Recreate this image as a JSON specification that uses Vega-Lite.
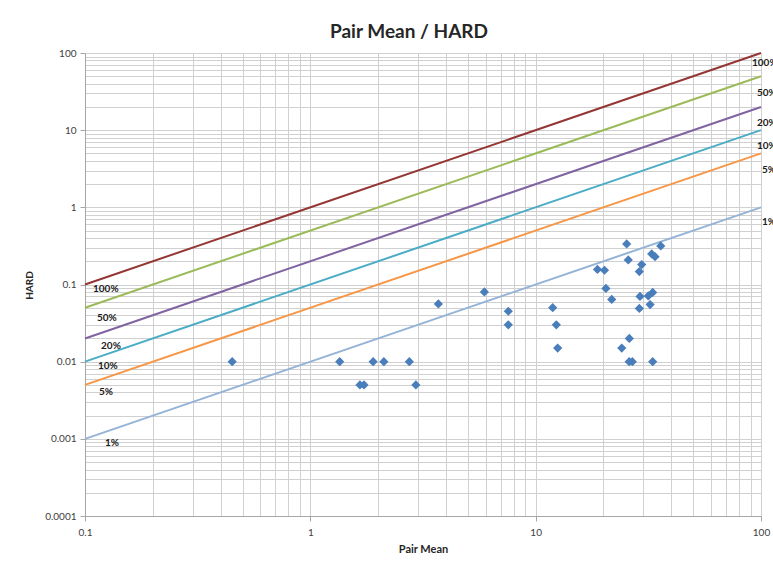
{
  "$schema": "https://vega.github.io/schema/vega-lite/v6.json",
  "width": 676,
  "height": 463,
  "autosize": {"type": "none"},
  "padding": {"left": 85, "top": 53, "right": 12, "bottom": 53},
  "background": "white",
  "config": {
    "font": "Lato",
    "view": {"stroke": null}
  },
  "title": {
    "text": "Pair Mean / HARD",
    "font": "Lato",
    "fontSize": 19,
    "fontWeight": "bold",
    "color": "#262626",
    "anchor": "middle",
    "frame": "group",
    "dx": -14,
    "baseline": "alphabetic",
    "offset": -9
  },
  "datasets": {
    "guides": [
      {"series": "100%", "x": 0.1, "y": 0.1},
      {"series": "100%", "x": 100, "y": 100},
      {"series": "50%", "x": 0.1, "y": 0.05},
      {"series": "50%", "x": 100, "y": 50},
      {"series": "20%", "x": 0.1, "y": 0.02},
      {"series": "20%", "x": 100, "y": 20},
      {"series": "10%", "x": 0.1, "y": 0.01},
      {"series": "10%", "x": 100, "y": 10},
      {"series": "5%", "x": 0.1, "y": 0.005},
      {"series": "5%", "x": 100, "y": 5},
      {"series": "1%", "x": 0.1, "y": 0.001},
      {"series": "1%", "x": 100, "y": 1}
    ],
    "points": [
      {"x": 0.45, "y": 0.01},
      {"x": 1.35, "y": 0.01},
      {"x": 1.66, "y": 0.005},
      {"x": 1.73, "y": 0.005},
      {"x": 1.9, "y": 0.01},
      {"x": 2.12, "y": 0.01},
      {"x": 2.75, "y": 0.01},
      {"x": 2.94, "y": 0.005},
      {"x": 3.7, "y": 0.056},
      {"x": 5.92, "y": 0.08},
      {"x": 7.56, "y": 0.045},
      {"x": 7.56, "y": 0.03},
      {"x": 11.9, "y": 0.05},
      {"x": 12.35, "y": 0.03},
      {"x": 12.52, "y": 0.015},
      {"x": 18.8, "y": 0.157},
      {"x": 20.2, "y": 0.153},
      {"x": 20.5, "y": 0.089},
      {"x": 21.75, "y": 0.064},
      {"x": 24.1, "y": 0.015},
      {"x": 25.35, "y": 0.335},
      {"x": 25.76, "y": 0.208},
      {"x": 26.0, "y": 0.01},
      {"x": 26.04, "y": 0.02},
      {"x": 26.85, "y": 0.01},
      {"x": 28.84, "y": 0.147},
      {"x": 29.55, "y": 0.181},
      {"x": 29.04, "y": 0.07},
      {"x": 28.84, "y": 0.049},
      {"x": 31.6, "y": 0.071},
      {"x": 32.2, "y": 0.055},
      {"x": 33.06, "y": 0.079},
      {"x": 32.73, "y": 0.249},
      {"x": 33.86, "y": 0.229},
      {"x": 33.06, "y": 0.01},
      {"x": 35.9, "y": 0.316}
    ],
    "tags": [
      {"label": "100%", "x": 0.1085, "y": 0.0875},
      {"label": "50%", "x": 0.113, "y": 0.0368},
      {"label": "20%", "x": 0.1178, "y": 0.016},
      {"label": "10%", "x": 0.1142, "y": 0.0088},
      {"label": "5%", "x": 0.1154, "y": 0.00405},
      {"label": "1%", "x": 0.1227, "y": 0.00088},
      {"label": "100%", "x": 91.2, "y": 74.2},
      {"label": "50%", "x": 96.0, "y": 30.3},
      {"label": "20%", "x": 96.0, "y": 12.4},
      {"label": "10%", "x": 96.0, "y": 6.24},
      {"label": "5%", "x": 101, "y": 3.05},
      {"label": "1%", "x": 101, "y": 0.645}
    ]
  },
  "layer": [
    {
      "data": {"name": "guides"},
      "mark": {"type": "line", "strokeWidth": 2, "clip": false},
      "encoding": {
        "x": {
          "field": "x",
          "type": "quantitative",
          "scale": {"type": "log", "domain": [0.1, 100], "nice": false},
          "axis": {
            "title": "Pair Mean",
            "titleFont": "Lato",
            "titleFontSize": 11,
            "titleFontWeight": "bold",
            "titleColor": "#262626",
            "titleX": 338,
            "titleY": 33,
            "titleBaseline": "middle",
            "titleAlign": "center",
            "values": [0.1, 0.2, 0.3, 0.4, 0.5, 0.6, 0.7, 0.8, 0.9, 1, 2, 3, 4, 5, 6, 7, 8, 9, 10, 20, 30, 40, 50, 60, 70, 80, 90, 100],
            "labelExpr": "abs(log(datum.value)/LN10 - round(log(datum.value)/LN10)) < 0.001 ? '' + datum.value : ''",
            "labelOverlap": false,
            "labelBound": false,
            "labelFlush": false,
            "labelFont": "Lato",
            "labelFontSize": 10,
            "labelColor": "#404040",
            "labelPadding": 6,
            "tickSize": 5,
            "tickColor": "#a6a6a6",
            "tickOpacity": {"condition": {"test": "abs(log(datum.value)/LN10 - round(log(datum.value)/LN10)) < 0.001", "value": 1}, "value": 0},
            "domainColor": "#a6a6a6",
            "grid": true,
            "gridColor": "#d0d0d0",
            "gridWidth": 1
          }
        },
        "y": {
          "field": "y",
          "type": "quantitative",
          "scale": {"type": "log", "domain": [0.0001, 100], "nice": false},
          "axis": {
            "title": "HARD",
            "titleFont": "Lato",
            "titleFontSize": 10,
            "titleFontWeight": "bold",
            "titleColor": "#262626",
            "titleX": -56,
            "titleY": 232,
            "titleAngle": -90,
            "titleBaseline": "middle",
            "titleAlign": "center",
            "values": [0.0001, 0.0002, 0.0003, 0.0004, 0.0005, 0.0006, 0.0007, 0.0008, 0.0009, 0.001, 0.002, 0.003, 0.004, 0.005, 0.006, 0.007, 0.008, 0.009, 0.01, 0.02, 0.03, 0.04, 0.05, 0.06, 0.07, 0.08, 0.09, 0.1, 0.2, 0.3, 0.4, 0.5, 0.6, 0.7, 0.8, 0.9, 1, 2, 3, 4, 5, 6, 7, 8, 9, 10, 20, 30, 40, 50, 60, 70, 80, 90, 100],
            "labelExpr": "abs(log(datum.value)/LN10 - round(log(datum.value)/LN10)) < 0.001 ? '' + datum.value : ''",
            "labelOverlap": false,
            "labelBound": false,
            "labelFlush": false,
            "labelFont": "Lato",
            "labelFontSize": 10,
            "labelColor": "#404040",
            "labelPadding": 4,
            "tickSize": 5,
            "tickColor": "#a6a6a6",
            "tickOpacity": {"condition": {"test": "abs(log(datum.value)/LN10 - round(log(datum.value)/LN10)) < 0.001", "value": 1}, "value": 0},
            "domainColor": "#a6a6a6",
            "grid": true,
            "gridColor": "#d0d0d0",
            "gridWidth": 1
          }
        },
        "color": {
          "field": "series",
          "type": "nominal",
          "scale": {
            "domain": ["100%", "50%", "20%", "10%", "5%", "1%"],
            "range": ["#943634", "#9BBB59", "#8064A2", "#4BACC6", "#F79646", "#95B3D7"]
          },
          "legend": null
        }
      }
    },
    {
      "data": {"name": "points"},
      "mark": {"type": "point", "shape": "diamond", "filled": true, "size": 85, "color": "#4A7EBB", "opacity": 1},
      "encoding": {
        "x": {"field": "x", "type": "quantitative", "scale": {"type": "log", "domain": [0.1, 100], "nice": false}},
        "y": {"field": "y", "type": "quantitative", "scale": {"type": "log", "domain": [0.0001, 100], "nice": false}}
      }
    },
    {
      "data": {"name": "tags"},
      "mark": {"type": "text", "align": "left", "baseline": "middle", "font": "Lato", "fontSize": 10, "fontWeight": "bold", "color": "#1a1a1a"},
      "encoding": {
        "x": {"field": "x", "type": "quantitative", "scale": {"type": "log", "domain": [0.1, 100], "nice": false}},
        "y": {"field": "y", "type": "quantitative", "scale": {"type": "log", "domain": [0.0001, 100], "nice": false}},
        "text": {"field": "label", "type": "nominal"}
      }
    }
  ]
}
